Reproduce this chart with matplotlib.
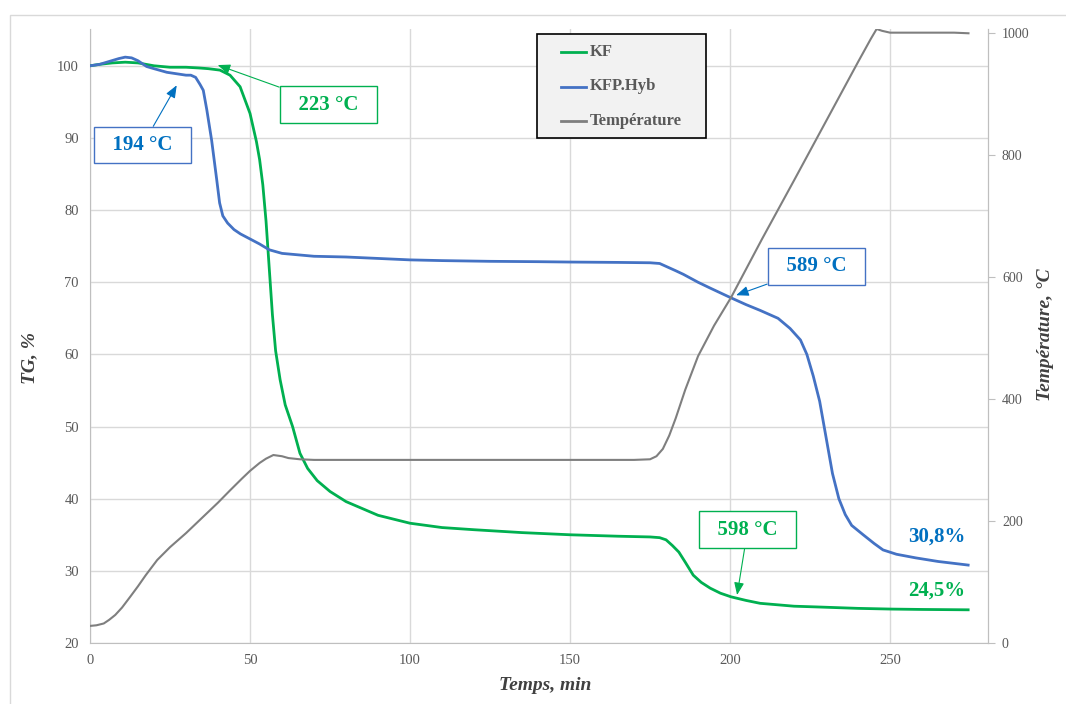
import matplotlib
matplotlib.use('Agg')
from matplotlib import pyplot as plt
from matplotlib.patches import Rectangle
from matplotlib.lines import Line2D

plt.rcParams['font.family'] = ['Liberation Serif', 'DejaVu Serif']

# Series (time in min, TG in %)
t_kf = [0, 3, 7, 11, 15, 20, 25, 30, 34, 37, 40.6, 43.75, 46.9, 50, 52, 53, 54, 55, 56, 57, 58,
        59.4, 61, 63.3, 65.6, 68, 71, 75, 80, 90, 100, 110, 120, 135, 150, 165, 175, 178, 180,
        182, 184, 186, 188.5, 191, 193.8, 197, 200.3, 205, 209.4, 220, 227, 240, 250.6, 260, 274.4]
tg_kf = [100, 100.2, 100.4, 100.5, 100.4, 100.0, 99.8, 99.8, 99.7, 99.6, 99.4, 98.7, 97.1, 93.4,
         89.5, 87.0, 83.5, 78.5, 72.0, 65.5, 60.5, 56.5, 53.0, 50.0, 46.3, 44.2, 42.5, 41.0, 39.6,
         37.7, 36.6, 36.0, 35.7, 35.3, 35.0, 34.8, 34.7, 34.6, 34.3, 33.5, 32.6, 31.2, 29.4, 28.4,
         27.6, 26.9, 26.4, 25.9, 25.5, 25.1, 25.0, 24.8, 24.7, 24.65, 24.6]

t_hyb = [0, 3, 6, 9, 11, 13, 15, 17.7, 20, 24, 27, 30, 31.5, 33, 34.4, 35.4, 36.5, 38, 39.6, 40.5,
         41.5, 43, 45, 47, 50, 53, 56, 60, 65, 70, 80, 90, 100, 110, 125, 140, 150, 165, 175, 178,
         180, 183, 185.4, 190, 193.75, 200, 205, 209.4, 215, 218.75, 222, 224, 226, 228, 230, 232,
         234, 236, 238, 241.6, 245, 247.8, 252, 258, 265, 274.4]
tg_hyb = [100, 100.2, 100.6, 101.0, 101.2, 101.1, 100.7, 99.9, 99.6, 99.1, 98.9, 98.7, 98.7, 98.4,
          97.4, 96.6, 93.9, 89.7, 84.2, 81.0, 79.2, 78.2, 77.3, 76.7, 76.0, 75.3, 74.5, 74.0, 73.8,
          73.6, 73.5, 73.3, 73.1, 73.0, 72.9, 72.85, 72.8, 72.75, 72.7, 72.6, 72.2, 71.6, 71.1,
          70.0, 69.2, 67.9, 66.9, 66.1, 65.0, 63.6, 62.0, 60.0, 57.0, 53.5, 48.5, 43.5, 40.0, 37.8,
          36.3, 35.0, 33.8, 32.9, 32.3, 31.8, 31.3, 30.8]

t_temp = [0, 2, 4.3, 6, 7.9, 10, 12.6, 15, 17.4, 21, 25, 30, 35, 40, 43.75, 47.4, 50, 53, 55, 57.3,
          60, 62, 65.6, 70, 80, 100, 125, 150, 170, 175, 177, 179, 181, 183, 186, 190, 195, 200.3,
          210, 220, 230, 240, 244, 245.8, 247.5, 250, 260, 270, 274.5]
temp = [28, 29, 32, 38, 46, 58, 76, 93, 111, 136, 157, 180, 205, 230, 250, 269, 282, 295, 302, 308,
        306, 303, 301, 300, 300, 300, 300, 300, 300, 301, 306, 318, 340, 368, 415, 470, 520, 566,
        662, 758, 855, 952, 990, 1006, 1003, 1000, 1000, 1000, 999]

series_names = ['KF', 'KFP.Hyb', 'Température']
green = '#00b050'
blue = '#4472c4'
gray = '#7f7f7f'
label_gray = '#595959'
W, H = 1066, 704

fig = plt.figure(figsize=(W / 100, H / 100), dpi=100)
ax = fig.add_axes([90 / W, 61 / H, 898 / W, 614 / H])
ax2 = ax.twinx()

# chart border
fig.patches.append(Rectangle((10 / W, -0.02), 1.0, 1 - 15 / H + 0.02, transform=fig.transFigure,
                             fill=False, edgecolor='#d9d9d9', linewidth=1.0))

ax.plot(t_kf, tg_kf, color=green, lw=2.0, zorder=3)
ax.plot(t_hyb, tg_hyb, color=blue, lw=2.0, zorder=3)
ax2.plot(t_temp, temp, color=gray, lw=1.5)

ax.set_xlim(0, 280.6)
ax.set_ylim(20, 105.1)
ax2.set_ylim(0, 1006)
ax.set_xticks([0, 50, 100, 150, 200, 250])
ax.set_yticks(range(20, 101, 10))
ax2.set_yticks(range(0, 1001, 200))

ax.grid(True, color='#d9d9d9', lw=1.0)
ax.set_axisbelow(True)
for a in (ax, ax2):
    a.spines['top'].set_visible(False)
    for s in ('left', 'bottom', 'right'):
        a.spines[s].set_color('#bfbfbf')
ax2.spines['left'].set_visible(False)
ax2.spines['bottom'].set_visible(False)
ax.tick_params(axis='both', length=0, labelsize=10.5, labelcolor=label_gray, pad=8)
ax2.tick_params(axis='y', length=5, color='#bfbfbf', labelsize=10, labelcolor=label_gray, pad=5)

fig.text(30 / W, 1 - 358 / H, 'TG, %', rotation=90, ha='center', va='center',
         fontsize=14, fontweight='bold', fontstyle='italic', color='#404040')
fig.text(545 / W, 1 - 685 / H, 'Temps, min', ha='center', va='center',
         fontsize=14, fontweight='bold', fontstyle='italic', color='#404040')
fig.text(1045 / W, 1 - 335 / H, 'Température, °C', rotation=90, ha='center', va='center',
         fontsize=14, fontweight='bold', fontstyle='italic', color='#404040')

# legend box, drawn by hand to get Excel's spacing
fig.patches.append(Rectangle((537 / W, 1 - 138 / H), 169 / W, 104 / H, transform=fig.transFigure,
                             facecolor='#f2f2f2', edgecolor='black', linewidth=1.2, zorder=10))
for i, (name, c) in enumerate(zip(series_names, [green, blue, gray])):
    yy = 1 - (52 + 34.5 * i) / H
    fig.add_artist(Line2D([561 / W, 586 / W], [yy, yy], color=c, lw=2.0, zorder=11))
    fig.text(590 / W, yy, name, ha='left', va='center', fontsize=12, fontweight='bold',
             color=label_gray, zorder=11)

box_kw = dict(fontsize=15, fontweight='bold', ha='center', va='center', zorder=6)


def callout(text, xy, xytext, color, edge):
    ax.annotate(text, xy=xy, xytext=xytext, color=color,
                bbox=dict(boxstyle='square,pad=0.4', fc='white', ec=edge, lw=1.0),
                arrowprops=dict(arrowstyle='-|>,head_length=0.5,head_width=0.2', color=color, lw=0.8,
                                shrinkA=0, shrinkB=0),
                **box_kw)


callout('  194 °C  ', (27.1, 97.3), (16.4, 89.0), '#0070c0', blue)
callout('  223 °C  ', (39.9, 100.1), (74.5, 94.6), green, green)
callout('  589 °C  ', (201.9, 68.2), (227.0, 72.2), '#0070c0', blue)
callout('  598 °C  ', (202.2, 26.65), (205.5, 35.7), green, green)

ax.text(264.5, 34.8, '30,8%', color='#0070c0', fontsize=15, fontweight='bold', ha='center', va='center')
ax.text(264.5, 27.3, '24,5%', color=green, fontsize=15, fontweight='bold', ha='center', va='center')

fig.savefig('out.png', dpi=100)
